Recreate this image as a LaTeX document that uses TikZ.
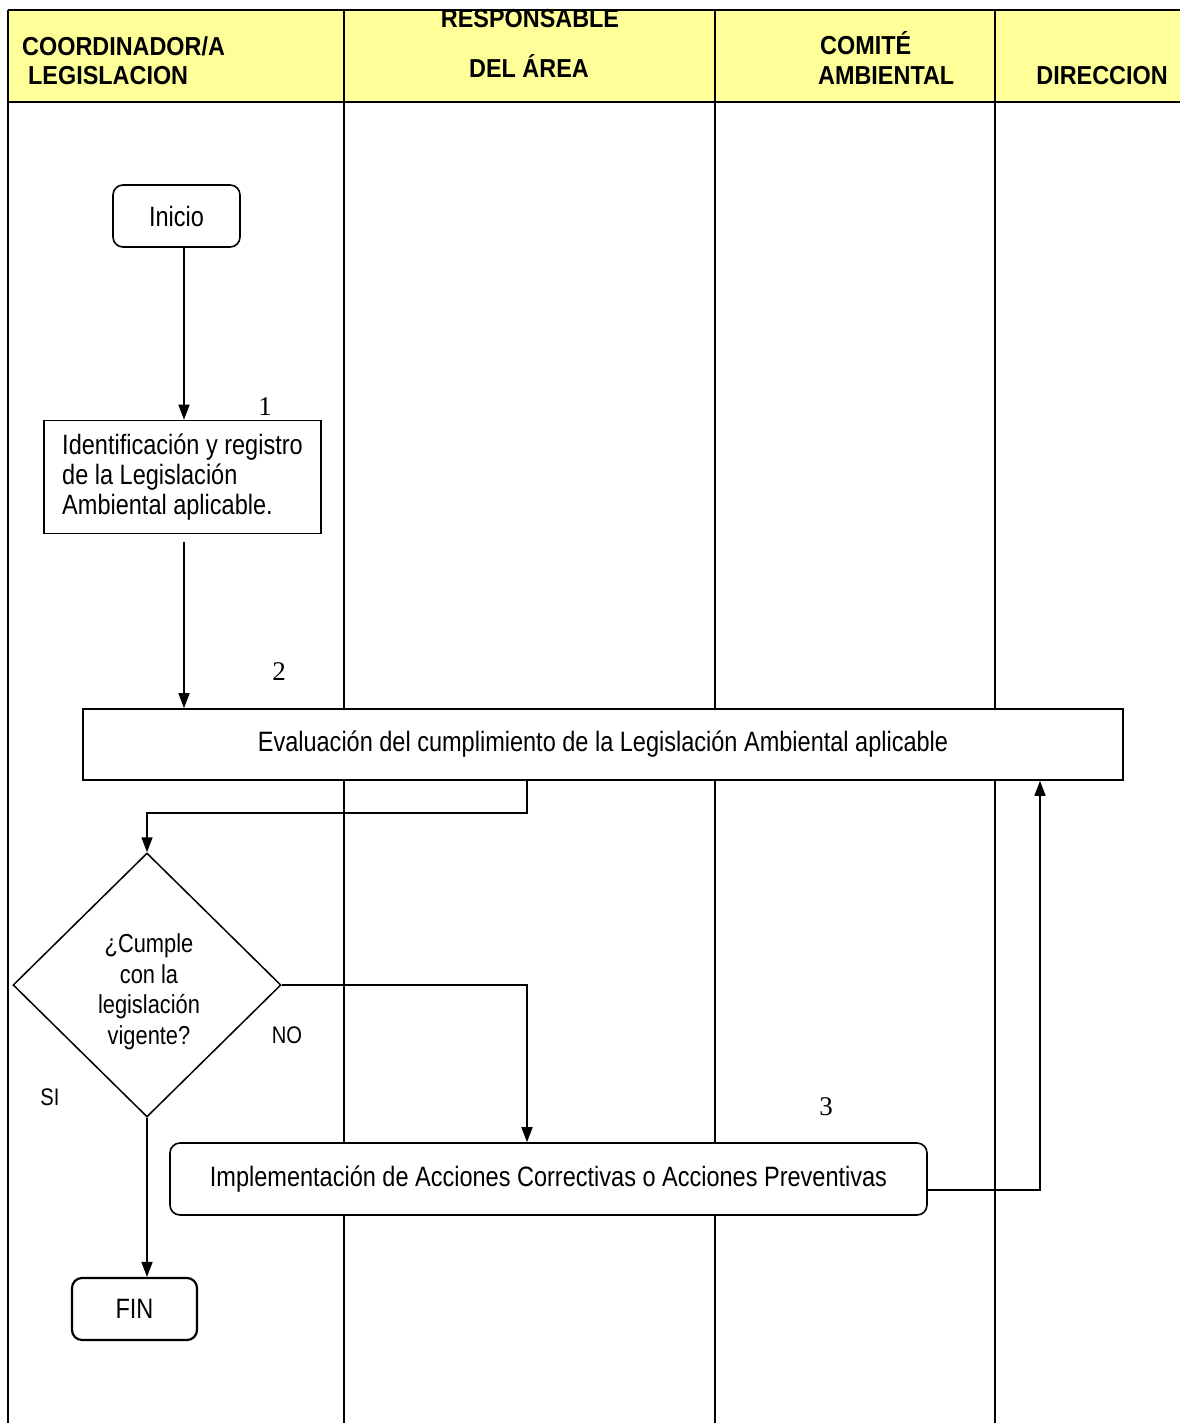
\documentclass[tikz,border=0pt]{standalone}
\usepackage{fontspec}
\setmainfont{Liberation Sans}
\newfontfamily\bodyf[FakeStretch=0.84]{Liberation Sans}
\newfontfamily\headf[FakeStretch=0.9]{Liberation Sans}
\newfontfamily\numf{Liberation Serif}
\usetikzlibrary{arrows.meta,shapes.geometric}
\definecolor{hdr}{RGB}{255,255,153}
\tikzset{
  lane/.style={line width=1.3pt},
  box/.style={draw, fill=white, line width=1.6pt, inner sep=0pt, font=\bodyf\fontsize{28}{30}\selectfont},
  rbox/.style={box, rounded corners=10pt},
  arr/.style={line width=1.6pt, -{Triangle[length=15pt,width=11pt]}},
  hd/.style={inner sep=0pt, font=\headf\bfseries\fontsize{26}{30}\selectfont},
  num/.style={inner sep=0pt, font=\numf\fontsize{27}{30}\selectfont},
  lbl/.style={inner sep=0pt, font=\bodyf\fontsize{24}{28}\selectfont}
}
\begin{document}
\begin{tikzpicture}[x=1pt,y=-1pt]
\useasboundingbox (0,0) rectangle (1180,1423);
% header band
\fill[hdr] (8,10) rectangle (1180,102);
\draw[lane] (8,10) -- (1180,10);
\draw[lane] (8,102) -- (1180,102);
\draw[lane] (8,10) -- (8,1423);
\draw[lane] (344,10) -- (344,1423);
\draw[lane] (715,10) -- (715,1423);
\draw[lane] (995,10) -- (995,1423);
% header texts
\node[hd, anchor=base west] (h1a) at (22,56) {COORDINADOR/A};
\node[hd, anchor=base west] (h1b) at (28,85) {LEGISLACION};
\node[hd, anchor=base] (h2a) at (530,28) {RESPONSABLE};
\node[hd, anchor=base] (h2b) at (529,78) {DEL ÁREA};
\node[hd, anchor=base west] (h3a) at (820,55) {COMITÉ};
\node[hd, anchor=base west] (h3b) at (818,85) {AMBIENTAL};
\node[hd, anchor=base] (h4) at (1102,85) {DIRECCION};
% nodes
\node[rbox, minimum width=127pt, minimum height=62pt] (ini) at (176.5,216) {Inicio};
\node[box, minimum width=277pt, minimum height=113pt, align=left] (b1) at (182.5,477)
  {Identificación y registro\\de la Legislación\\Ambiental aplicable.};
\node[box, minimum width=1040pt, minimum height=71pt] (b2) at (603,744.5)
  {Evaluación del cumplimiento de la Legislación Ambiental aplicable};
\node[draw, fill=white, line width=1.5pt, diamond, minimum width=268pt, minimum height=264pt, inner sep=0pt] (dia) at (147,985) {};
\node[inner sep=0pt, align=center, font=\bodyf\fontsize{26}{30.5}\selectfont] (diat) at (149,992)
  {¿Cumple\\con la\\legislación\\vigente?};
\node[rbox, minimum width=757pt, minimum height=72pt] (b3) at (548.5,1179)
  {Implementación de Acciones Correctivas o Acciones Preventivas};
\node[rbox, minimum width=125pt, minimum height=62pt, line width=2.2pt] (fin) at (134.5,1309) {FIN};
% labels
\node[num] (n1) at (265,407) {1};
\node[num] (n2) at (279,672) {2};
\node[num] (n3) at (826,1107) {3};
\node[lbl] (no) at (287,1035) {NO};
\node[lbl] (si) at (50,1097) {SI};
% connectors
\coordinate (c1) at (184,0);
\draw[arr] (ini.south -| c1) -- (b1.north -| c1);
\draw[arr] ([yshift=-8pt]b1.south -| c1) -- (b2.north -| c1);
\coordinate (k1) at (527,813);
\draw[arr] (b2.south -| k1) -- (k1) -| (dia.north);
\draw[arr] (dia.east) -| (b3.north -| k1);
\coordinate (k2) at (1040,1190);
\draw[arr] (b3.east |- k2) -- (k2) -- (b2.south -| k2);
\draw[arr] (dia.south) -- (fin.north -| dia.south);
\end{tikzpicture}
\end{document}
